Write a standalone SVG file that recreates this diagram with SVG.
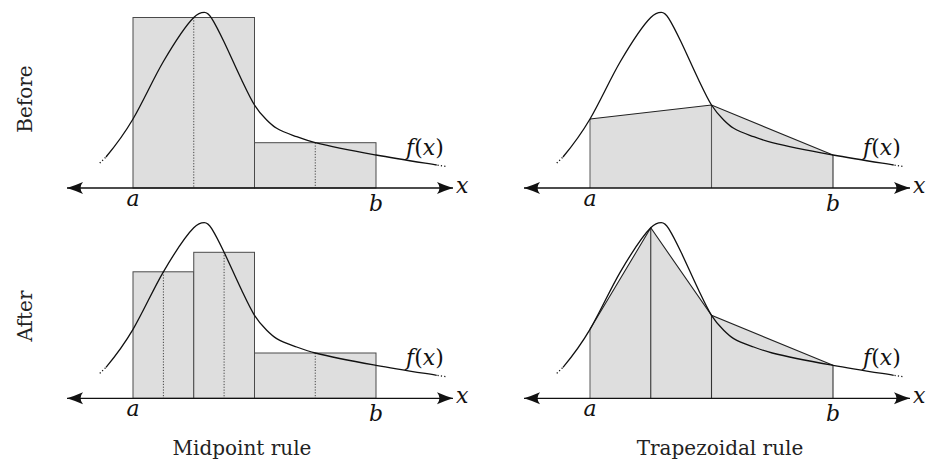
<svg xmlns="http://www.w3.org/2000/svg" width="929" height="460" viewBox="0 0 929 460">
<style>
 .box{fill:#dedede;stroke:#4a4a4a;stroke-width:1}
 .trap{fill:#dedede;stroke:none}
 .edge{fill:none;stroke:#222;stroke-width:1.1}
 .vert{stroke:#333;stroke-width:1.1}
 .mid{stroke:#444;stroke-width:1;stroke-dasharray:1.2 1.6}
 .curve{fill:none;stroke:#111;stroke-width:1.3}
 .dots{fill:none;stroke:#111;stroke-width:1.3;stroke-dasharray:1.2 2.2}
 .axis{stroke:#111;stroke-width:1.3;marker-start:url(#ah);marker-end:url(#ah)}
 .math{font-family:'DejaVu Serif',serif;font-style:italic;font-size:22px;fill:#111}
 .up{font-style:normal}
 .lbl{font-family:'DejaVu Serif',serif;font-size:20px;fill:#222}
</style>
<defs>
 <marker id="ah" markerWidth="18" markerHeight="13" refX="16" refY="6.5" orient="auto-start-reverse" markerUnits="userSpaceOnUse" viewBox="0 0 18 13">
  <path d="M16,6.5 Q8,4 0,0.5 Q5,6.5 0,12.5 Q8,9 16,6.5 Z" fill="#111"/>
 </marker>
 <path id="f" d="M106,157 C115,146.2 124,134.3 133,119 C143.13,101.77 153.27,78.73 163.4,61.5 C173.52,44.3 183.63,27.62 193.75,17.5 C197.27,13.98 200.78,12.3 204.3,12.3 C206.77,12.3 209.23,14.350 211.7,18.3 C215.83,24.91 219.97,33.32 224.1,42 C229.97,54.32 235.83,67.68 241.7,80 C245.97,88.96 250.23,98.17 254.5,105 C258.57,111.51 262.63,115.93 266.7,120 C270.03,123.33 273.37,126.3 276.7,128.3 C283.37,132.3 290.03,134.3 296.7,136.7 C302.88,138.93 309.07,141.15 315.25,142.7 C335.5,147.76 355.75,151.35 376,155 C396.23,158.64 416.47,161.76 436.7,165"/>
 <g id="fcurve">
  <use href="#f" class="curve"/>
  <path class="dots" d="M105.5,157.5 L99,163.8"/>
  <path class="dots" d="M437.5,165.1 L447.5,166.6"/>
 </g>
 <g id="axislabels">
  <line class="axis" x1="67" y1="188" x2="453" y2="188"/>
  <text class="math" x="133" y="205.5" text-anchor="middle">a</text>
  <text class="math" x="376" y="210.5" text-anchor="middle">b</text>
  <text class="math" x="456" y="193">x</text>
  <text class="math" x="406" y="155">f<tspan class="up">(</tspan>x<tspan class="up">)</tspan></text>
 </g>
</defs>

<g id="before-midpoint">
 <rect class="box" x="133" y="17.5" width="121.5" height="170.5"/>
 <rect class="box" x="254.5" y="142.7" width="121.5" height="45.3"/>
 <line class="mid" x1="193.75" y1="17.5" x2="193.75" y2="188"/>
 <line class="mid" x1="315.25" y1="142.7" x2="315.25" y2="188"/>
 <use href="#fcurve"/>
 <use href="#axislabels"/>
</g>

<g id="before-trapezoid" transform="translate(457,0)">
 <polygon class="trap" points="133,119 254.5,105 376,155 376,188 133,188"/>
 <line class="vert" x1="133" y1="119" x2="133" y2="188" style="stroke:#666"/>
 <line class="vert" x1="254.5" y1="105" x2="254.5" y2="188" style="stroke:#555"/>
 <line class="vert" x1="376" y1="155" x2="376" y2="188"/>
 <polyline class="edge" points="133,119 254.5,105 376,155"/>
 <use href="#fcurve"/>
 <use href="#axislabels"/>
</g>

<g id="after-midpoint" transform="translate(0,210.3)">
 <rect class="box" x="133" y="61.5" width="60.75" height="126.5"/>
 <rect class="box" x="193.75" y="42" width="60.75" height="146"/>
 <rect class="box" x="254.5" y="142.7" width="121.5" height="45.3"/>
 <line class="mid" x1="163.4" y1="61.5" x2="163.4" y2="188"/>
 <line class="mid" x1="224.1" y1="42" x2="224.1" y2="188"/>
 <line class="mid" x1="315.25" y1="142.7" x2="315.25" y2="188"/>
 <use href="#fcurve"/>
 <use href="#axislabels"/>
</g>

<g id="after-trapezoid" transform="translate(457,210.3)">
 <polygon class="trap" points="133,119 193.75,17.5 254.5,105 376,155 376,188 133,188"/>
 <line class="vert" x1="133" y1="119" x2="133" y2="188" style="stroke:#666"/>
 <line class="vert" x1="193.75" y1="17.5" x2="193.75" y2="188"/>
 <line class="vert" x1="254.5" y1="105" x2="254.5" y2="188"/>
 <line class="vert" x1="376" y1="155" x2="376" y2="188"/>
 <polyline class="edge" points="133,119 193.75,17.5 254.5,105 376,155"/>
 <use href="#fcurve"/>
 <use href="#axislabels"/>
</g>

<g id="row-labels">
 <text class="lbl" text-anchor="middle" transform="translate(32,99) rotate(-90)">Before</text>
 <text class="lbl" text-anchor="middle" transform="translate(32,316) rotate(-90)">After</text>
</g>
<g id="column-labels">
 <text class="lbl" x="242" y="455" text-anchor="middle">Midpoint rule</text>
 <text class="lbl" x="720" y="455" text-anchor="middle">Trapezoidal rule</text>
</g>
</svg>
